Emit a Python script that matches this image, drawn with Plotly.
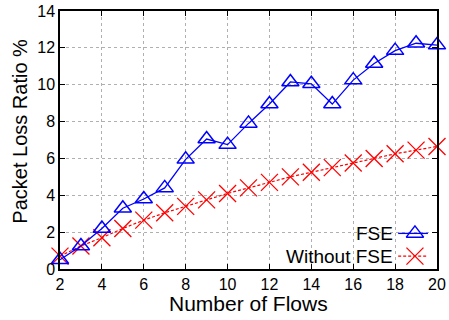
import plotly.graph_objects as go

flows = [2, 3, 4, 5, 6, 7, 8, 9, 10, 11, 12, 13, 14, 15, 16, 17, 18, 19, 20]
fse = [0.5, 1.25, 2.2, 3.3, 3.8, 4.4, 5.95, 7.05, 6.75, 7.9, 8.95, 10.15, 10.05, 8.95, 10.25, 11.15, 11.85, 12.25, 12.15]
without_fse = [0.7, 1.25, 1.7, 2.2, 2.65, 3.05, 3.4, 3.75, 4.1, 4.4, 4.7, 5.0, 5.25, 5.5, 5.75, 6.0, 6.25, 6.45, 6.65]
series_names = ["FSE", "Without FSE"]
x_ticks = [2, 4, 6, 8, 10, 12, 14, 16, 18, 20]
y_ticks = [0, 2, 4, 6, 8, 10, 12, 14]
x_title = "Number of Flows"
y_title = "Packet Loss Ratio %"

FONT = "Liberation Sans, Arial, Helvetica, sans-serif"
BLUE = "#0000ff"
RED = "#ff0000"

fig = go.Figure()
fig.add_trace(go.Scatter(
    x=flows, y=without_fse, mode="lines+markers", name=series_names[1],
    line=dict(color=RED, width=1.2, dash="3px,2px"),
    marker=dict(symbol="x-thin-open", size=17, color=RED, line=dict(color=RED, width=1.3)),
    showlegend=False, cliponaxis=False))
fig.add_trace(go.Scatter(
    x=flows, y=fse, mode="lines+markers", name=series_names[0],
    line=dict(color=BLUE, width=1.3),
    marker=dict(symbol="triangle-up-open", size=15, color=BLUE, line=dict(color=BLUE, width=1.5)),
    showlegend=False, cliponaxis=False))

# legend samples on an overlay axis (0..1 over plot area)
leg_y = [0.138, 0.05]
fig.add_trace(go.Scatter(x=[0.897, 0.976], y=[leg_y[0]] * 2, mode="lines", xaxis="x2", yaxis="y2",
                         line=dict(color=BLUE, width=1.3), showlegend=False, hoverinfo="skip"))
fig.add_trace(go.Scatter(x=[0.9415], y=[leg_y[0]], mode="markers", xaxis="x2", yaxis="y2",
                         marker=dict(symbol="triangle-up-open", size=15, color=BLUE, line=dict(color=BLUE, width=1.5)),
                         showlegend=False, hoverinfo="skip"))
fig.add_trace(go.Scatter(x=[0.897, 0.976], y=[leg_y[1]] * 2, mode="lines", xaxis="x2", yaxis="y2",
                         line=dict(color=RED, width=1.2, dash="3px,2px"), showlegend=False, hoverinfo="skip"))
fig.add_trace(go.Scatter(x=[0.9415], y=[leg_y[1]], mode="markers", xaxis="x2", yaxis="y2",
                         marker=dict(symbol="x-thin-open", size=17, color=RED, line=dict(color=RED, width=1.3)),
                         showlegend=False, hoverinfo="skip"))

for name, yy in zip(series_names, leg_y):
    fig.add_annotation(x=0.889, y=yy, xref="paper", yref="paper", text=name, showarrow=False,
                       xanchor="right", yanchor="middle", font=dict(family=FONT, size=19, color="black"))

# axis titles
fig.add_annotation(x=0.501, y=-0.132, xref="paper", yref="paper", text=x_title, showarrow=False,
                   xanchor="center", yanchor="middle", font=dict(family=FONT, size=21, color="black"))
fig.add_annotation(x=-0.107, y=0.535, xref="paper", yref="paper", text=y_title, showarrow=False,
                   textangle=-90, xanchor="center", yanchor="middle",
                   font=dict(family=FONT, size=20, color="black"))

# opaque key box
fig.add_shape(type="rect", xref="paper", yref="paper", x0=0.745, x1=1.0, y0=0.0, y1=0.17,
              fillcolor="white", line=dict(width=0), layer="between")

axis_common = dict(
    showline=True, linecolor="black", linewidth=1.5, mirror="ticks",
    ticks="inside", ticklen=5, tickwidth=1, tickcolor="black",
    showgrid=True, gridcolor="#b0b0b0", gridwidth=1, griddash="dot",
    zeroline=False, tickfont=dict(family=FONT, size=16, color="black"),
)

fig.update_layout(
    width=449, height=320,
    margin=dict(l=60, r=12, t=11, b=51, autoexpand=False),
    paper_bgcolor="white", plot_bgcolor="white",
    font=dict(family=FONT, color="black"),
    xaxis=dict(range=[2, 20], tickvals=x_ticks, **axis_common),
    yaxis=dict(range=[0, 14], tickvals=y_ticks, **axis_common),
    xaxis2=dict(overlaying="x", range=[0, 1], visible=False, fixedrange=True),
    yaxis2=dict(overlaying="y", range=[0, 1], visible=False, fixedrange=True),
)

fig.write_html("out.html")
